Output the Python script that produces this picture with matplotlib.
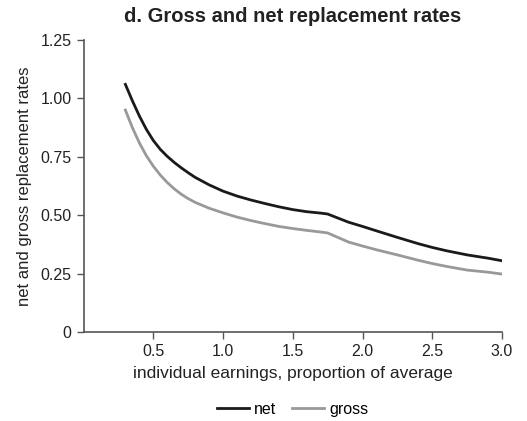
import matplotlib
matplotlib.use("Agg")
import matplotlib.pyplot as plt

plt.rcParams['font.family'] = ['Liberation Sans', 'DejaVu Sans']

earnings = [0.3, 0.35, 0.4, 0.45, 0.5, 0.55, 0.6, 0.65, 0.7, 0.75, 0.8, 0.9, 1.0, 1.1, 1.2,
            1.3, 1.4, 1.5, 1.6, 1.7, 1.75, 1.9, 2.0, 2.1, 2.25, 2.4, 2.5, 2.6, 2.75, 2.9, 3.0]
net = [1.06, 0.99, 0.925, 0.868, 0.820, 0.782, 0.752, 0.726, 0.703, 0.682, 0.662, 0.630,
       0.603, 0.582, 0.565, 0.550, 0.536, 0.524, 0.515, 0.509, 0.505, 0.470, 0.452, 0.433,
       0.405, 0.378, 0.362, 0.348, 0.330, 0.316, 0.305]
gross = [0.95, 0.875, 0.810, 0.755, 0.710, 0.672, 0.640, 0.613, 0.590, 0.571, 0.555, 0.530,
         0.510, 0.492, 0.477, 0.464, 0.452, 0.443, 0.435, 0.428, 0.424, 0.385, 0.368, 0.352,
         0.330, 0.307, 0.293, 0.281, 0.265, 0.256, 0.248]
xticks = [0.5, 1.0, 1.5, 2.0, 2.5, 3.0]
xtick_labels = ["0.5", "1.0", "1.5", "2.0", "2.5", "3.0"]
yticks = [0, 0.25, 0.5, 0.75, 1.0, 1.25]
ytick_labels = ["0", "0.25", "0.50", "0.75", "1.00", "1.25"]

fig = plt.figure(figsize=(5.27, 4.21), dpi=100)
ax = fig.add_axes([0.1585, 0.2114, 0.7941, 0.6936])

ax.plot(earnings, net, color="#1a1a1a", lw=2.0, label="net", solid_joinstyle="round")
ax.plot(earnings, gross, color="#999999", lw=2.0, label="gross", solid_joinstyle="round")

ax.set_xlim(0, 3.0)
ax.set_ylim(0, 1.25)
ax.set_xticks(xticks)
ax.set_xticklabels(xtick_labels)
ax.set_yticks(yticks)
ax.set_yticklabels(ytick_labels)

for s in ["top", "right"]:
    ax.spines[s].set_visible(False)
for s in ["left", "bottom"]:
    ax.spines[s].set_color("#555555")
    ax.spines[s].set_linewidth(1.2)
ax.tick_params(axis="both", colors="#555555", labelcolor="#222222", labelsize=11.5,
               length=5, width=1.0, direction="out")

ax.set_xlabel("individual earnings, proportion of average", fontsize=12.5, color="#222222", labelpad=5)
ax.set_ylabel("net and gross replacement rates", fontsize=12, color="#222222", labelpad=6)
ax.set_title("d. Gross and net replacement rates", fontsize=14.5, fontweight="bold",
             color="#222222", pad=13)

ax.legend(loc="upper center", bbox_to_anchor=(0.5, -0.19), ncol=2, frameon=False,
          fontsize=11.5, handlelength=2.0, columnspacing=1.0, handletextpad=0.3)

fig.savefig("out.png", dpi=100)
